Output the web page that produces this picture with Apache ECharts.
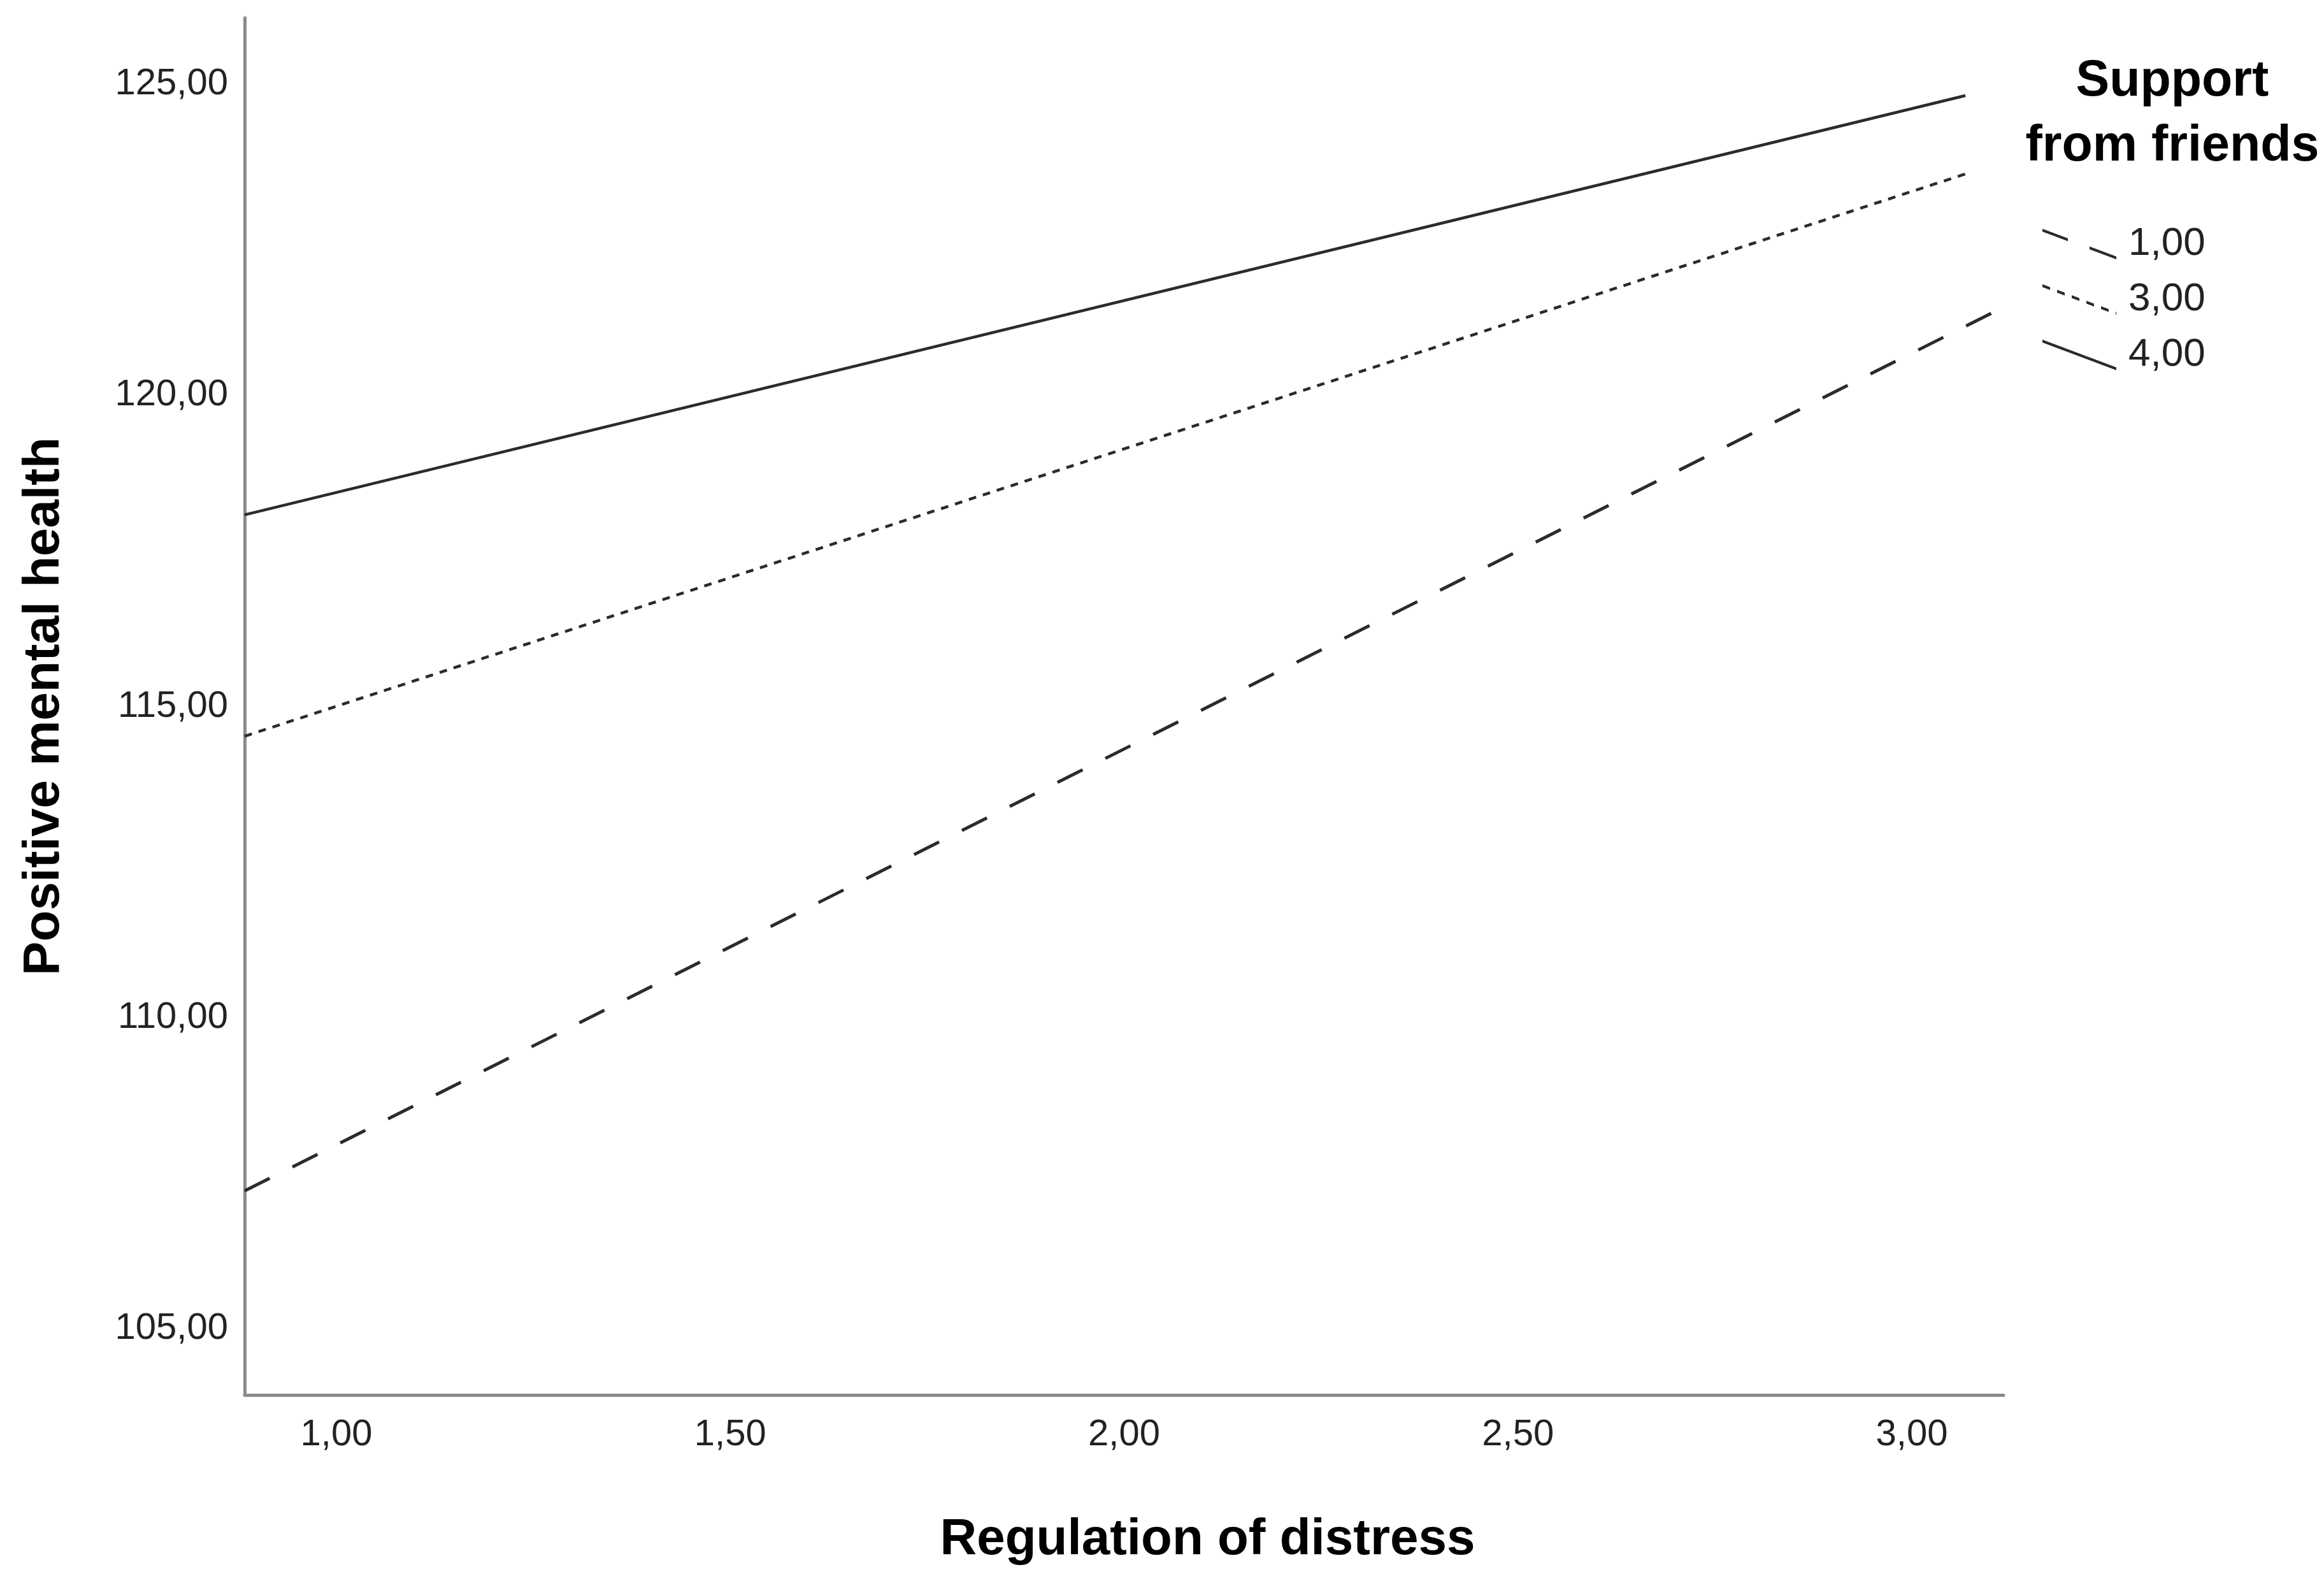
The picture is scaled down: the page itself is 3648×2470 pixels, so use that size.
<!DOCTYPE html>
<html>
<head>
<meta charset="utf-8">
<script src="https://cdn.jsdelivr.net/npm/echarts@6/dist/echarts.min.js"></script>
<style>
html,body{margin:0;padding:0;background:#fff;}
#chart{width:3648px;height:2470px;}
</style>
</head>
<body>
<div id="chart"></div>
<script>
// ---- data ----
const xTicks = [1.0, 1.5, 2.0, 2.5, 3.0];
const yTicks = [105, 110, 115, 120, 125];
const seriesNames = ['1,00', '3,00', '4,00'];
// each line: [x, y] endpoints
const lineLow  = [[0.8835, 107.21], [3.1165, 121.42]];   // support 1.00 (dashed)
const lineMid  = [[0.8835, 114.52], [3.068, 123.56]];    // support 3.00 (dotted)
const lineHigh = [[0.8835, 118.08], [3.068, 124.82]];    // support 4.00 (solid)

const fmt = v => Number(v).toFixed(2).replace('.', ',');
const FONT = '"Liberation Sans", Arial, sans-serif';
const LINE = '#2b2b2b';

// legend icons (diagonal line samples)
function seg(x0, x1, W, H, t) {
  const y0 = x0 / W * (H - t), y1 = x1 / W * (H - t);
  return `M${x0},${y0} L${x1},${y1} L${x1},${y1 + t} L${x0},${y0 + t} Z `;
}
const W = 116, H = 48, T = 4.5;
const iconSolid = 'path://' + seg(0, W, W, H, T);
const iconDash = 'path://' + seg(0, 40, W, H, T) + seg(74, W, W, H, T);
let dots = '';
for (let x = 0; x < W; x += 23) dots += seg(x, Math.min(x + 12, W), W, H, T);
const iconDot = 'path://' + dots;

const chart = echarts.init(document.getElementById('chart'), null, {renderer: 'canvas'});
chart.setOption({
  animation: false,
  backgroundColor: '#fff',
  grid: {left: 384, right: 503, top: 28, bottom: 281, containLabel: false},
  title: {
    text: 'Support\nfrom friends',
    left: 3405, top: 72,
    textAlign: 'center',
    textStyle: {fontFamily: FONT, fontWeight: 'bold', fontSize: 79, lineHeight: 102, color: '#000'}
  },
  legend: {
    orient: 'vertical',
    left: 3206, top: 352,
    padding: 0,
    itemWidth: W, itemHeight: H, itemGap: 25,
    itemStyle: {borderWidth: 0, color: LINE},
    textStyle: {fontFamily: FONT, fontSize: 62, lineHeight: 48, color: '#222', padding: [10, 0, 0, 14]},
    data: [
      {name: seriesNames[0], icon: iconDash},
      {name: seriesNames[1], icon: iconDot},
      {name: seriesNames[2], icon: iconSolid}
    ]
  },
  xAxis: {
    type: 'value', min: 0.8835, max: 3.1165,
    name: 'Regulation of distress', nameLocation: 'middle', nameGap: 228,
    nameTextStyle: {fontFamily: FONT, fontWeight: 'bold', fontSize: 80, color: '#000', verticalAlign: 'middle', padding: [0, 0, 0, 262]},
    axisLine: {show: true, lineStyle: {color: '#8a8a8a', width: 5}},
    axisTick: {show: false},
    splitLine: {show: false},
    axisLabel: {customValues: xTicks, formatter: fmt, margin: 34, fontFamily: FONT, fontSize: 58, color: '#222'}
  },
  yAxis: {
    type: 'value', min: 103.93, max: 126.07,
    name: 'Positive mental health', nameLocation: 'middle', nameGap: 314, nameRotate: 90,
    nameTextStyle: {fontFamily: FONT, fontWeight: 'bold', fontSize: 80, color: '#000', verticalAlign: 'middle'},
    axisLine: {show: true, lineStyle: {color: '#8a8a8a', width: 5}},
    axisTick: {show: false},
    splitLine: {show: false},
    axisLabel: {customValues: yTicks, formatter: fmt, margin: 26, fontFamily: FONT, fontSize: 58, color: '#222', padding: [20, 0, 0, 0]}
  },
  series: [
    {name: seriesNames[0], type: 'line', data: lineLow, showSymbol: false, symbol: 'none', color: LINE,
     lineStyle: {color: LINE, width: 5, type: [44, 40]}},
    {name: seriesNames[1], type: 'line', data: lineMid, showSymbol: false, symbol: 'none', color: LINE,
     lineStyle: {color: LINE, width: 4.5, type: [12, 11]}},
    {name: seriesNames[2], type: 'line', data: lineHigh, showSymbol: false, symbol: 'none', color: LINE,
     lineStyle: {color: LINE, width: 4.5, type: 'solid'}}
  ]
});
</script>
</body>
</html>
